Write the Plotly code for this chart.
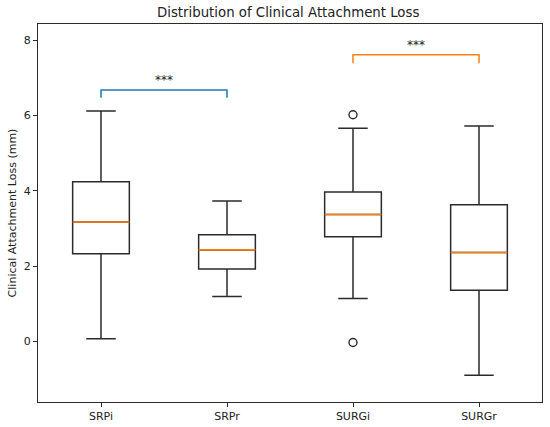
import plotly.graph_objects as go

groups = ["SRPi", "SRPr", "SURGi", "SURGr"]
positions = [1, 2, 3, 4]
lower_whisker = [0.07, 1.19, 1.14, -0.90]
q1 = [2.33, 1.92, 2.78, 1.36]
median = [3.17, 2.43, 3.37, 2.36]
q3 = [4.24, 2.83, 3.97, 3.63]
upper_whisker = [6.12, 3.73, 5.66, 5.72]
outlier_x = [3, 3]
outlier_y = [6.02, -0.03]

# significance brackets: (left, right, height, drop, colour)
brackets = [(1, 2, 6.68, 0.21, "#1f77b4"), (3, 4, 7.61, 0.22, "#ff7f0e")]
sig_label = "***"

box_w = 0.45
line_col = "#2b2b2b"
font = "DejaVu Sans"

fig = go.Figure()

for i, g in enumerate(groups):
    fig.add_trace(go.Box(
        x=[positions[i]], q1=[q1[i]], median=[median[i]], q3=[q3[i]],
        lowerfence=[lower_whisker[i]], upperfence=[upper_whisker[i]],
        name=g, width=box_w, whiskerwidth=0.52,
        line=dict(color=line_col, width=1.5),
        fillcolor="rgba(255,255,255,0)",
        hoverinfo="skip", showlegend=False
    ))
    # orange median line on top of the box
    fig.add_trace(go.Scatter(
        x=[positions[i] - box_w / 2, positions[i] + box_w / 2],
        y=[median[i], median[i]], mode="lines",
        line=dict(color="#ff7f0e", width=1.6),
        hoverinfo="skip", showlegend=False
    ))

fig.add_trace(go.Scatter(
    x=outlier_x, y=outlier_y, mode="markers",
    marker=dict(symbol="circle-open", size=8, color=line_col, line=dict(width=1.4)),
    hoverinfo="skip", showlegend=False
))

for x0, x1, h, d, col in brackets:
    fig.add_trace(go.Scatter(
        x=[x0, x0, x1, x1], y=[h - d, h, h, h - d], mode="lines",
        line=dict(color=col, width=1.5),
        hoverinfo="skip", showlegend=False
    ))
    fig.add_annotation(
        x=(x0 + x1) / 2, y=h, text=sig_label, showarrow=False,
        yanchor="bottom", yshift=1, font=dict(size=12, color="#222", family=font)
    )

axis_style = dict(
    showline=True, linecolor=line_col, linewidth=1.2, mirror=True,
    ticks="outside", ticklen=4, tickcolor=line_col, showgrid=False, zeroline=False,
    automargin=False, tickfont=dict(size=11, color="#222", family=font)
)

fig.update_layout(
    width=550, height=427,
    margin=dict(l=38, r=8, t=24, b=25),
    title=dict(text="Distribution of Clinical Attachment Loss", x=0.524, xanchor="center",
               y=0.97, yanchor="middle", font=dict(size=13.3, color="#222", family=font)),
    plot_bgcolor="white", paper_bgcolor="white",
    xaxis=dict(range=[0.5, 4.5], tickvals=positions, ticktext=groups, **axis_style),
    yaxis=dict(range=[-1.61, 8.43], tickvals=[0, 2, 4, 6, 8],
               title=dict(text="Clinical Attachment Loss (mm)", standoff=4,
                          font=dict(size=11, color="#222", family=font)),
               **axis_style),
)

# page body has a default margin; drop it so the figure fills the window
fig.write_html("out.html", config={"displayModeBar": False},
               post_script="document.body.style.margin = '0';")
